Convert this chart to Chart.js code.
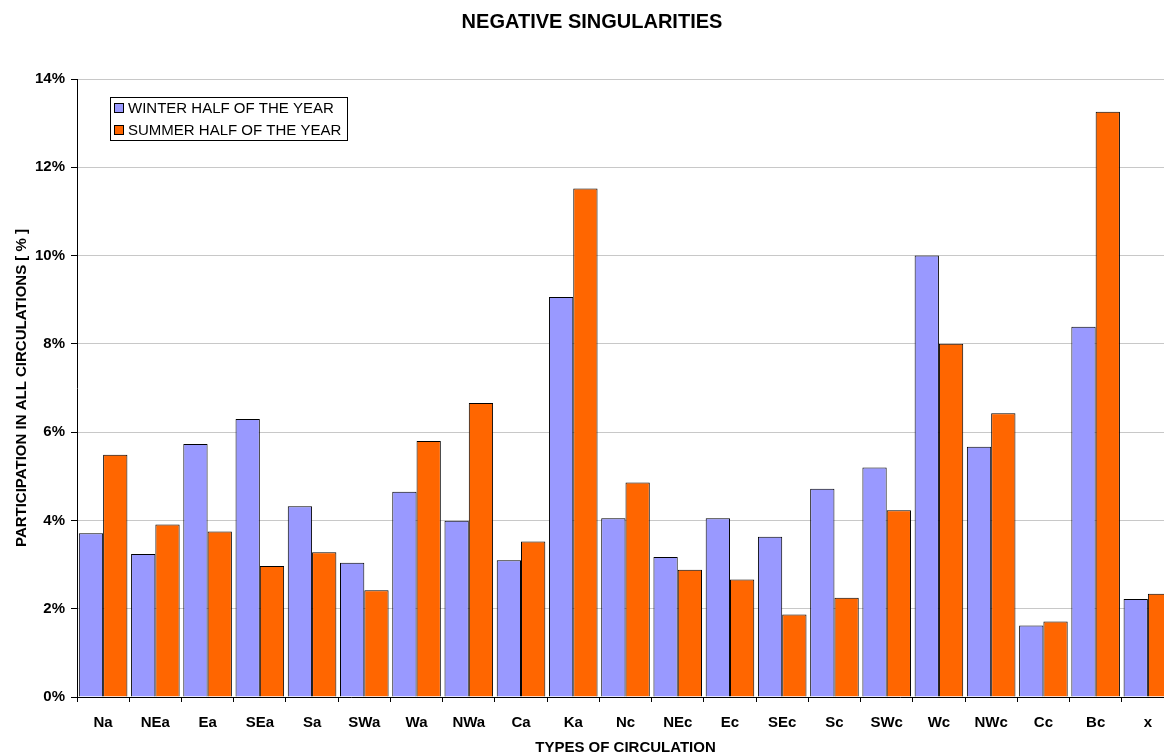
<!DOCTYPE html>
<html>
<head>
<meta charset="utf-8">
<title>Negative singularities</title>
<script src="https://cdn.jsdelivr.net/npm/chart.js@4/dist/chart.umd.min.js"></script>
<style>
  html, body { margin: 0; padding: 0; background: #fff; overflow: hidden; }
  canvas { display: block; }
</style>
</head>
<body>
<canvas id="chart" width="1184" height="754"></canvas>
<script>
// circulation types on the x axis
const categories = ['Na', 'NEa', 'Ea', 'SEa', 'Sa', 'SWa', 'Wa', 'NWa', 'Ca', 'Ka',
  'Nc', 'NEc', 'Ec', 'SEc', 'Sc', 'SWc', 'Wc', 'NWc', 'Cc', 'Bc', 'x'];

// participation in all circulations, in %
const winterValues = [3.71, 3.24, 5.73, 6.30, 4.32, 3.04, 4.65, 3.99, 3.10, 9.06,
  4.05, 3.17, 4.05, 3.63, 4.72, 5.20, 10.00, 5.67, 1.62, 8.39, 2.22];
const summerValues = [5.49, 3.91, 3.75, 2.97, 3.28, 2.42, 5.80, 6.66, 3.52, 11.52,
  4.86, 2.88, 2.66, 1.87, 2.25, 4.23, 8.00, 6.43, 1.71, 13.26, 2.34];

const seriesNames = ['WINTER HALF OF THE YEAR', 'SUMMER HALF OF THE YEAR'];
const yTicks = [0, 2, 4, 6, 8, 10, 12, 14];

const el = (id) => document.getElementById(id);

Chart.defaults.font.family = 'Arial, "Liberation Sans", sans-serif';
Chart.defaults.color = '#000';

// legend box sits inside the plot, like the Excel original
const boxLegend = {
  id: 'boxLegend',
  afterDraw(chart) {
    const ctx = chart.ctx;
    const x = 110, y = 97, w = 237, h = 43;
    ctx.save();
    ctx.fillStyle = '#fff';
    ctx.fillRect(x, y, w, h);
    ctx.strokeStyle = '#000';
    ctx.lineWidth = 1;
    ctx.strokeRect(x + 0.5, y + 0.5, w, h);
    ctx.font = '15px Arial, "Liberation Sans", sans-serif';
    ctx.textBaseline = 'middle';
    chart.data.datasets.forEach((ds, i) => {
      const sy = 103 + i * 22;
      ctx.fillStyle = ds.backgroundColor;
      ctx.fillRect(114, sy, 10, 10);
      ctx.strokeRect(114.5, sy + 0.5, 9, 9);
      ctx.fillStyle = '#000';
      ctx.fillText(ds.label, 128, sy + 5.5);
    });
    ctx.restore();
  }
};

new Chart(el('chart').getContext('2d'), {
  type: 'bar',
  data: {
    labels: categories,
    datasets: [{
      label: seriesNames[0],
      data: winterValues,
      backgroundColor: '#9999ff',
      borderColor: '#000',
      borderWidth: 1,
      categoryPercentage: 0.93,
      barPercentage: 1
    }, {
      label: seriesNames[1],
      data: summerValues,
      backgroundColor: '#ff6600',
      borderColor: '#000',
      borderWidth: 1,
      categoryPercentage: 0.93,
      barPercentage: 1
    }]
  },
  options: {
    responsive: false,
    animation: false,
    layout: { padding: { left: 10, right: 10, top: 0, bottom: 0 } },
    plugins: {
      legend: { display: false },
      tooltip: { enabled: false },
      title: {
        display: true,
        text: 'NEGATIVE SINGULARITIES',
        font: { size: 20, weight: 'bold' },
        padding: { top: 10.5, bottom: 44.5 }
      }
    },
    scales: {
      x: {
        grid: { drawOnChartArea: false, drawTicks: true, tickLength: 5, color: '#000', offset: true },
        border: { color: '#000', width: 1 },
        ticks: { font: { size: 15, weight: 'bold' }, padding: 12, maxRotation: 0, autoSkip: false },
        title: {
          display: true,
          text: 'TYPES OF CIRCULATION',
          font: { size: 15, weight: 'bold', lineHeight: 1 },
          padding: { top: 0, bottom: -1.5 }
        },
        afterFit: (s) => { s.height = 57; }
      },
      y: {
        min: 0,
        max: 14,
        afterBuildTicks: (s) => { s.ticks = yTicks.map(v => ({ value: v })); },
        grid: { color: '#c8c8c8', tickColor: '#000', tickLength: 6 },
        border: { color: '#000', width: 1 },
        ticks: {
          font: { size: 15, weight: 'bold' },
          padding: 6,
          callback: v => v + '%'
        },
        title: {
          display: true,
          text: 'PARTICIPATION IN ALL CIRCULATIONS [ % ]',
          font: { size: 15, weight: 'bold' },
          padding: { top: 3, bottom: 0 }
        },
        afterFit: (s) => { s.width = 67; }
      }
    }
  },
  plugins: [boxLegend]
});
</script>
</body>
</html>
